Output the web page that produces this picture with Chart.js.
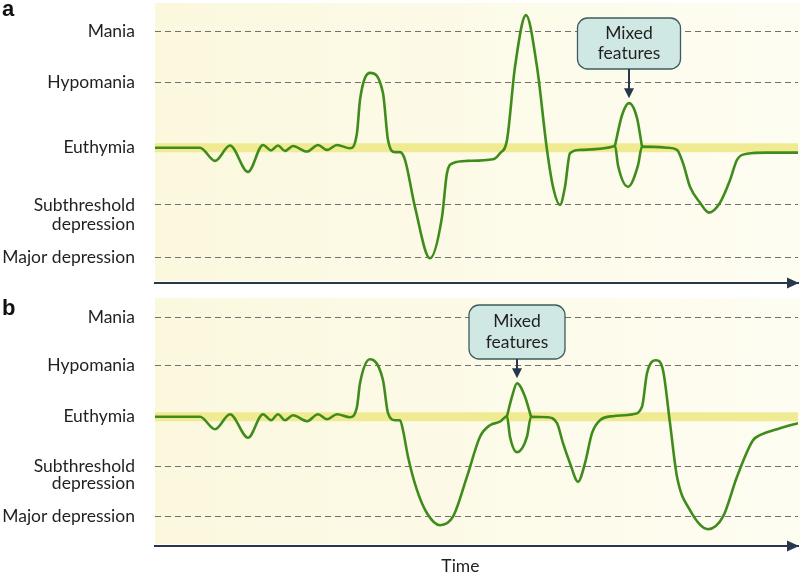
<!DOCTYPE html>
<html><head><meta charset="utf-8">
<script src="https://cdn.jsdelivr.net/npm/chart.js@4/dist/chart.umd.min.js"></script>
<style>
html,body{margin:0;padding:0;background:#fff;}
#wrap{position:relative;width:800px;height:586px;overflow:hidden;}
canvas{position:absolute;left:0;}
#ca{top:0;}
#cb{top:290px;}
</style></head>
<body><div id="wrap"><canvas id="ca" width="800" height="290"></canvas><canvas id="cb" width="800" height="296"></canvas></div>
<script>
// ---------- data ----------
const stateLabels = ['Mania','Hypomania','Euthymia',['Subthreshold','depression'],'Major depression'];
const levelsA = [2.11, 1.19, 0, -1.04, -2.0];
const levelsB = [1.98, 1.02, 0, -1.0, -2.0];

const timeA = [0,45,60,75,93,108,116,123,130,138,152,163,172,182,195,202,205,215,228,233,240,245,250,260,275,287,292,298,312,338,345,352,360,371,382,392,398,405,410,415,425,458,460,463,473,483,487,512,522,528,535,545,554,565,575,582,592,612,643];
const moodA = [0,0,-0.24,0.04,-0.44,0.05,-0.05,0.04,-0.06,0.03,-0.07,0.05,-0.04,0.05,-0.01,0.27,0.87,1.36,0.99,0.14,-0.08,-0.08,-0.22,-1.08,-2.01,-1.26,-0.46,-0.28,-0.24,-0.21,-0.10,0.14,1.47,2.41,1.47,-0.04,-0.71,-1.04,-0.71,-0.10,-0.04,0.02,0.04,-0.32,-0.71,-0.32,0.02,0,-0.04,-0.28,-0.71,-1.0,-1.18,-1.0,-0.59,-0.22,-0.11,-0.09,-0.09];
const lobeTimeA = [460,467,474,482,487];
const lobeMoodA = [0.04,0.59,0.81,0.54,0.02];

const timeB = [0,45,60,75,93,108,116,123,130,138,152,163,172,182,195,202,205,215,228,233,240,245,248,253,262,272,285,298,312,325,335,345,352,355,362,372,376,392,402,408,415,423,430,437,445,458,478,487,492,501,508,515,522,535,553,568,582,598,605,625,643];
const moodB = [0,0,-0.25,0.05,-0.42,0.05,-0.07,0.05,-0.07,0.03,-0.09,0.05,-0.05,0.05,-0.01,0.2,0.67,1.15,0.73,0.07,-0.07,-0.07,-0.27,-0.8,-1.47,-1.93,-2.17,-2.0,-1.2,-0.4,-0.17,-0.1,0.01,-0.4,-0.71,-0.4,0,-0.01,-0.13,-0.53,-0.93,-1.3,-0.93,-0.33,-0.07,0.01,0.05,0.2,0.87,1.13,0.93,-0.13,-1.2,-1.87,-2.25,-2.0,-1.2,-0.47,-0.37,-0.23,-0.13];
const lobeTimeB = [352,357,362,370,376];
const lobeMoodB = [0.01,0.4,0.67,0.4,0];

const timeSpan = [0, 643];
const calloutText = ['Mixed','features'];
const axisTitle = 'Time';
const panelTags = ['a','b'];

// ---------- style ----------
const FONT = 'Lato, "Open Sans", sans-serif';
const GREEN = '#3f8c1c';
const NAVY = '#263849';
const BAND = '#f0eb93';
Chart.defaults.font.family = FONT;

function pts(xs, ys){ return xs.map((x,i)=>({x:x, y:ys[i]})); }

const decor = {
  id:'decor',
  beforeDraw(chart, args, o){
    const {ctx, chartArea:ca} = chart;
    ctx.save();
    const g = ctx.createLinearGradient(ca.left,0,chart.width,0);
    g.addColorStop(0,'#fbf8de'); g.addColorStop(1,'#fefdf2');
    ctx.fillStyle = g;
    ctx.fillRect(ca.left, ca.top, chart.width-ca.left, ca.bottom-ca.top-2);
    ctx.restore();
  },
  afterDraw(chart, args, o){
    const {ctx, chartArea:ca, scales} = chart;
    ctx.save();
    // axis arrow head
    ctx.fillStyle = NAVY;
    ctx.beginPath();
    ctx.moveTo(ca.right+1, ca.bottom);
    ctx.lineTo(ca.right-11, ca.bottom-5.5);
    ctx.lineTo(ca.right-11, ca.bottom+5.5);
    ctx.closePath(); ctx.fill();
    // panel tag
    ctx.fillStyle = '#111';
    ctx.font = 'bold 22px "Liberation Sans", Arial, sans-serif';
    ctx.textAlign='left'; ctx.textBaseline='alphabetic';
    ctx.fillText(o.tag, 2, o.tagY);
    // callout
    const lobe = chart.data.datasets[o.lobeIndex].data;
    let peak = lobe[0];
    lobe.forEach(p=>{ if(p.y>peak.y) peak=p; });
    const px = scales.x.getPixelForValue(peak.x);
    const py = scales.y.getPixelForValue(peak.y);
    const w=o.boxW, h=o.boxH, top=o.boxTop, left=px-w/2, r=10;
    ctx.beginPath();
    ctx.roundRect(left, top, w, h, r);
    ctx.fillStyle='#cfe8e4'; ctx.fill();
    ctx.lineWidth=1.3; ctx.strokeStyle='#3e5c5e'; ctx.stroke();
    ctx.fillStyle='#231f20';
    ctx.font = '17.5px '+FONT;
    ctx.textAlign='center'; ctx.textBaseline='middle';
    ctx.fillText(calloutText[0], px, top+h*0.31);
    ctx.fillText(calloutText[1], px, top+h*0.69);
    // arrow
    const tip = py-5;
    ctx.strokeStyle=NAVY; ctx.lineWidth=2;
    ctx.beginPath(); ctx.moveTo(px, top+h); ctx.lineTo(px, tip-8); ctx.stroke();
    ctx.fillStyle=NAVY;
    ctx.beginPath(); ctx.moveTo(px, tip); ctx.lineTo(px-5, tip-10); ctx.lineTo(px+5, tip-10); ctx.closePath(); ctx.fill();
    // time title
    if(o.showTime){
      ctx.fillStyle='#231f20';
      ctx.font='17.5px '+FONT;
      ctx.textAlign='center'; ctx.textBaseline='alphabetic';
      ctx.fillText(axisTitle, ca.left + (ca.right-ca.left)*0.475, ca.bottom+26);
    }
    ctx.restore();
  }
};

function makePanel(id, cfg){
  // tick list: first line of each label at its level, extra lines stacked below
  const tickVals = [], tickText = [], tickGrid = [];
  stateLabels.forEach((lab,i)=>{
    const lines = Array.isArray(lab) ? lab : [lab];
    lines.forEach((ln,k)=>{
      tickVals.push(cfg.levels[i] - k*cfg.lineGap);
      tickText.push(ln);
      tickGrid.push(k===0 && cfg.levels[i]!==0);
    });
  });
  return new Chart(document.getElementById(id), {
    type:'line',
    data:{ datasets:[
      { data: pts(cfg.time, cfg.mood), borderColor:GREEN, borderWidth:2.6, pointRadius:0, cubicInterpolationMode:'monotone', fill:false, order:1 },
      { data: pts(cfg.lobeTime, cfg.lobeMood), borderColor:GREEN, borderWidth:2.6, pointRadius:0, cubicInterpolationMode:'monotone', fill:false, order:1 },
      { data: timeSpan.map(t=>({x:t, y:0})), borderColor:BAND, borderWidth:9, pointRadius:0, tension:0, fill:false, order:5 }
    ]},
    options:{
      responsive:false, animation:false, devicePixelRatio:1,
      layout:{ padding:{ top:cfg.padTop, right:2, left:0, bottom:0 } },
      plugins:{ legend:{display:false}, tooltip:{enabled:false},
        decor:{ tag:cfg.tag, tagY:cfg.tagY, lobeIndex:1, boxW:cfg.boxW, boxH:cfg.boxH, boxTop:cfg.boxTop, showTime:cfg.showTime } },
      scales:{
        x:{ type:'linear', min:timeSpan[0], max:timeSpan[1],
            afterFit(s){ s.height = cfg.xH; s.paddingLeft=0; s.paddingRight=0; s.paddingTop=0; s.paddingBottom=0; },
            ticks:{display:false}, grid:{display:false, drawTicks:false},
            border:{display:true, color:NAVY, width:2} },
        y:{ type:'linear', min:cfg.yMin, max:cfg.yMax,
            afterFit(s){ s.width = 155; s.paddingTop=0; s.paddingBottom=0; s.paddingLeft=0; s.paddingRight=0; },
            afterBuildTicks(s){ s.ticks = tickVals.map(v=>({value:v})); },
            ticks:{ padding:20, color:'#231f20', font:{size:17.5, family:FONT}, autoSkip:false,
                    callback:(v,i)=>tickText[i] },
            grid:{ drawTicks:false, lineWidth:1,
                   color:(c)=> (c.index!==undefined && tickGrid[c.index]) ? '#707070' : 'rgba(0,0,0,0)' },
            border:{ display:false, dash:[6,4] } }
      }
    },
    plugins:[decor]
  });
}

makePanel('ca', { levels:levelsA, lineGap:0.345, time:timeA, mood:moodA, lobeTime:lobeTimeA, lobeMood:lobeMoodA,
  yMin:-2.46, yMax:2.631, padTop:3, xH:7, tag:panelTags[0], tagY:16, boxW:103, boxH:51, boxTop:18, showTime:false });
makePanel('cb', { levels:levelsB, lineGap:0.34, time:timeB, mood:moodB, lobeTime:lobeTimeB, lobeMood:lobeMoodB,
  yMin:-2.586, yMax:2.374, padTop:8, xH:40, tag:panelTags[1], tagY:25, boxW:96, boxH:54, boxTop:15, showTime:true });
</script></body></html>
